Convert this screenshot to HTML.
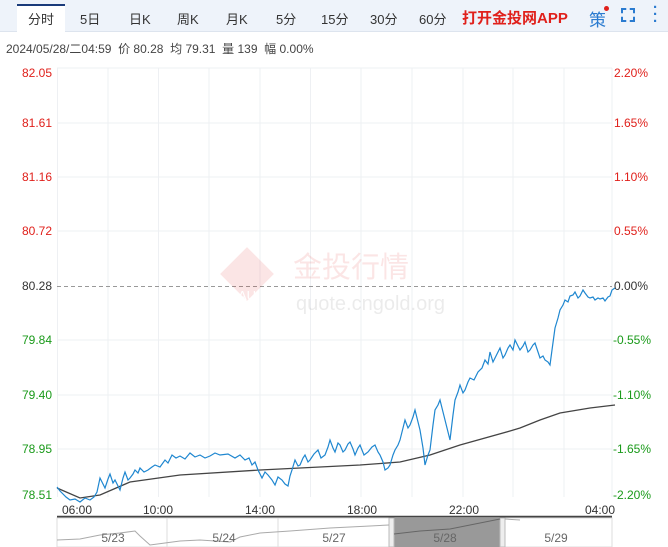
<!DOCTYPE html>
<html><head><meta charset="utf-8"><style>
body{margin:0;width:668px;height:547px;background:#fff;font-family:"Liberation Sans","Noto Sans CJK SC",sans-serif;overflow:hidden;position:relative}
.top{position:absolute;left:0;top:0;width:668px;height:31px;background:#eef3fa;border-bottom:1px solid #dde4ee}
.tab{position:absolute;top:9px;font-size:13px;color:#333}
.act{position:absolute;left:17px;top:4px;width:48px;height:28px;background:#fff;border-top:2px solid #1a3b7a}
.info{position:absolute;left:6px;top:40px;font-size:12px;color:#444}
.l{position:absolute;left:22px;font-size:12px}
.r{position:absolute;right:48px;font-size:12px;text-align:right}
</style></head><body>
<div class="top"></div><div class="act"></div>
<div class="tab" style="left:28px">分时</div>
<div class="tab" style="left:80px">5日</div>
<div class="tab" style="left:129px">日K</div>
<div class="tab" style="left:177px">周K</div>
<div class="tab" style="left:226px">月K</div>
<div class="tab" style="left:276px">5分</div>
<div class="tab" style="left:321px">15分</div>
<div class="tab" style="left:370px">30分</div>
<div class="tab" style="left:419px">60分</div>
<div class="tab" style="left:462px;top:7px;font-size:15px;font-weight:bold;color:#e0201b">打开金投网APP</div>
<div class="tab" style="left:589px;top:6px;font-size:17px;color:#2a7bd0">策</div>
<div style="position:absolute;left:604px;top:6px;width:5px;height:5px;border-radius:50%;background:#e0201b"></div>
<div style="position:absolute;left:621px;top:8px;width:14px;height:14px;border:2px dashed #2a7bd0;box-sizing:border-box"></div>
<div class="tab" style="left:653px;top:4px;color:#2a7bd0;font-weight:bold;font-size:15px;line-height:7px">·<br>·<br>·</div>
<div class="info">2024/05/28/二04:59 &nbsp;价 80.28 &nbsp;均 79.31 &nbsp;量 139 &nbsp;幅 0.00%</div>
<svg width="668" height="547" style="position:absolute;left:0;top:0">
<g stroke="#eef0f3" stroke-width="1">
<line x1="57" y1="68" x2="612" y2="68"/><line x1="57" y1="123" x2="612" y2="123"/><line x1="57" y1="177" x2="612" y2="177"/><line x1="57" y1="231" x2="612" y2="231"/><line x1="57" y1="340" x2="612" y2="340"/><line x1="57" y1="395" x2="612" y2="395"/><line x1="57" y1="449" x2="612" y2="449"/>
<line x1="57.5" y1="68" x2="57.5" y2="497"/><line x1="108" y1="68" x2="108" y2="497"/><line x1="158.5" y1="68" x2="158.5" y2="497"/><line x1="209" y1="68" x2="209" y2="497"/><line x1="260" y1="68" x2="260" y2="497"/><line x1="310.5" y1="68" x2="310.5" y2="497"/><line x1="361" y1="68" x2="361" y2="497"/><line x1="412" y1="68" x2="412" y2="497"/><line x1="463" y1="68" x2="463" y2="497"/><line x1="513" y1="68" x2="513" y2="497"/><line x1="564" y1="68" x2="564" y2="497"/><line x1="612" y1="68" x2="612" y2="497"/>
</g>
<line x1="57" y1="286.5" x2="612" y2="286.5" stroke="#999" stroke-dasharray="4,3"/>
<g opacity="0.11">
<rect x="228" y="255" width="38" height="38" transform="rotate(45 247 274)" fill="#e0201b"/>
<text x="247" y="300" font-size="13" fill="#fff" text-anchor="middle">AU</text>
<text x="293" y="277" font-size="29" fill="#e0201b" font-family="Noto Sans CJK SC">金投行情</text>
<text x="296" y="310" font-size="20" fill="#555">quote.cngold.org</text>
</g>
<polyline fill="none" stroke="#444" stroke-width="1.3" points="57,488 80,498 100,495 130,482 180,475 260,470 360,465 400,462 430,455 460,445 510,431 520,428 540,420 560,413 590,408 615,405"/>
<polyline fill="none" stroke="#1f87d0" stroke-width="1.2" points="57,487 60,491 62,493 66,497 70,500 75,499 80,502 85,498 90,500 94,497 97,492 100,478 103,484 105,488 108,479 110,474 113,483 115,480 118,486 120,490 123,478 125,472 128,480 130,478 133,474 135,470 138,473 140,468 144,472 148,470 152,467 155,465 160,467 165,460 168,463 172,455 176,458 180,456 185,459 190,453 195,457 200,455 205,458 210,456 215,453 220,455 228,454 235,458 240,455 245,460 249,458 252,465 255,462 258,470 262,478 265,472 268,475 272,480 275,485 278,477 282,480 285,484 288,486 290,476 292,470 295,460 298,466 300,465 303,458 305,455 308,462 310,460 314,454 318,450 321,458 325,455 328,447 330,440 333,448 335,452 338,443 340,445 343,452 345,450 348,444 350,442 353,449 355,455 358,448 360,445 364,455 368,452 372,447 375,445 378,452 380,455 383,462 385,470 388,468 390,465 393,455 395,450 398,445 400,440 403,428 405,420 408,428 410,425 413,417 415,410 418,422 420,430 423,448 425,465 428,455 430,450 433,425 435,410 438,405 440,400 443,412 445,420 448,432 450,440 453,415 455,400 458,392 460,385 463,393 465,390 468,382 470,378 474,380 478,372 482,368 485,360 488,364 490,352 493,362 495,358 498,352 500,348 503,358 505,355 508,348 510,345 513,350 515,340 518,346 520,350 523,346 525,342 528,352 530,350 533,345 535,343 538,352 540,358 543,356 545,360 548,362 550,365 552,350 555,328 558,318 560,310 563,305 565,300 568,302 570,296 573,295 575,292 578,298 580,296 583,290 585,293 588,297 590,298 593,297 595,300 598,298 600,299 603,298 605,301 608,297 610,296 612,290 615,288"/>
<line x1="57" y1="517" x2="612" y2="517" stroke="#444" stroke-width="2.5"/>
<rect x="57" y="518" width="555" height="29" fill="#fff" stroke="#ddd"/>
<rect x="394" y="518" width="106" height="29" fill="#999"/>
<rect x="389" y="518" width="5" height="29" fill="#eee" stroke="#bbb"/>
<rect x="500" y="518" width="5" height="29" fill="#eee" stroke="#bbb"/>
<g stroke="#ddd"><line x1="167" y1="518" x2="167" y2="547"/><line x1="278" y1="518" x2="278" y2="547"/></g>
<polyline fill="none" stroke="#aaa" points="57,540 80,539 100,535 120,533 135,531 140,536 150,545 165,543 180,541 200,540 230,542 240,537 260,533 290,531 330,528 370,526 389,525"/>
<polyline fill="none" stroke="#666" points="394,534 420,531 450,529 470,525 500,519"/>
<polyline fill="none" stroke="#aaa" points="505,519 520,520"/>
<g font-size="12" fill="#666" text-anchor="middle"><text x="113" y="542">5/23</text><text x="224" y="542">5/24</text><text x="334" y="542">5/27</text><text x="445" y="542">5/28</text><text x="556" y="542">5/29</text></g>
<g font-size="12" fill="#333" text-anchor="middle"><text x="77" y="514">06:00</text><text x="158" y="514">10:00</text><text x="260" y="514">14:00</text><text x="362" y="514">18:00</text><text x="464" y="514">22:00</text><text x="600" y="514">04:00</text></g>
</svg>
<div class="l" style="top:66px;color:#e0201b">82.05</div>
<div class="l" style="top:116px;color:#e0201b">81.61</div>
<div class="l" style="top:170px;color:#e0201b">81.16</div>
<div class="l" style="top:224px;color:#e0201b">80.72</div>
<div class="l" style="top:279px;color:#333">80.28</div>
<div class="l" style="top:333px;color:#1a9a1a">79.84</div>
<div class="l" style="top:388px;color:#1a9a1a">79.40</div>
<div class="l" style="top:442px;color:#1a9a1a">78.95</div>
<div class="l" style="top:488px;color:#1a9a1a">78.51</div>
<div class="r" style="top:66px;right:20px;color:#e0201b">2.20%</div>
<div class="r" style="top:116px;right:20px;color:#e0201b">1.65%</div>
<div class="r" style="top:170px;right:20px;color:#e0201b">1.10%</div>
<div class="r" style="top:224px;right:20px;color:#e0201b">0.55%</div>
<div class="r" style="top:279px;right:20px;color:#333">0.00%</div>
<div class="r" style="top:333px;right:17px;color:#1a9a1a">-0.55%</div>
<div class="r" style="top:388px;right:17px;color:#1a9a1a">-1.10%</div>
<div class="r" style="top:442px;right:17px;color:#1a9a1a">-1.65%</div>
<div class="r" style="top:488px;right:17px;color:#1a9a1a">-2.20%</div>
</body></html>
